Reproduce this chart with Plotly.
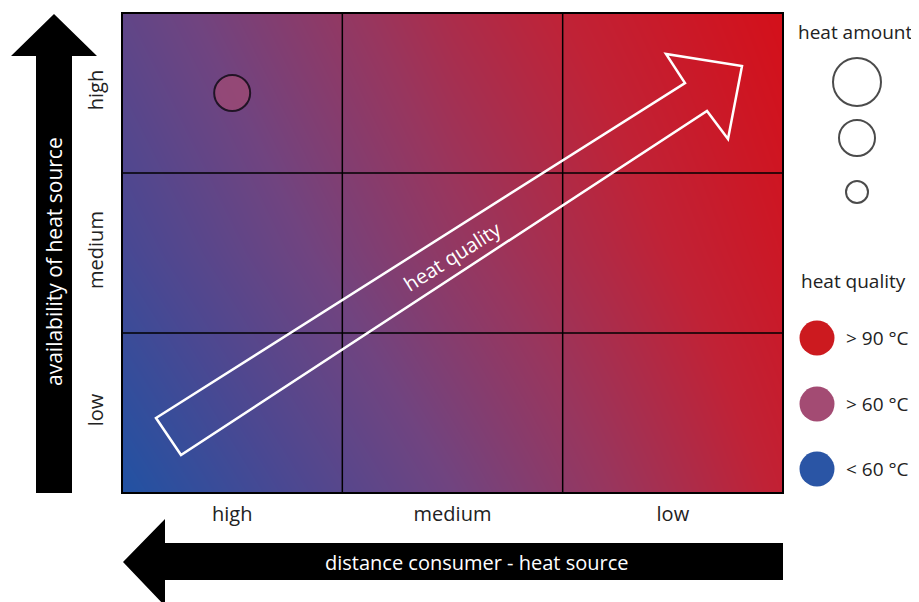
import plotly.graph_objects as go

# categories of the matrix
DISTANCE = ["high", "medium", "low"]          # distance consumer - heat source (x)
AVAILABILITY = ["low", "medium", "high"]      # availability of heat source (y)

# legend entries
AMOUNT_LEVELS = ["large", "medium", "small"]
AMOUNT_SIZES = [48, 36, 22]
QUALITY_LEVELS = ["> 90 °C", "> 60 °C", "< 60 °C"]
QUALITY_COLORS = ["#cc1a1f", "#a34b73", "#2a55a5"]

# heat sources placed in the matrix
POINT_DISTANCE = ["high"]
POINT_AVAILABILITY = ["high"]
POINT_AMOUNT = ["medium"]
POINT_QUALITY = ["> 60 °C"]

# background gradient (0 = cold / blue, 1 = hot / red), read at corners and middles
GRAD_X = [0, 0.5, 1]
GRAD_Y = [0, 0.5, 1]
GRAD_Z = [
    [0.00, 0.40, 0.82],
    [0.18, 0.57, 0.92],
    [0.32, 0.70, 1.00],
]

W, H = 919, 602
OFF = 8  # page body margin: the figure starts 8px in
FW, FH = W - OFF, H - OFF
PX0, PX1, PY0, PY1 = 122, 783, 13, 493
FONT = "Open Sans"
TXT = "#222222"

xdom = [(PX0 - OFF) / FW, (PX1 - OFF) / FW]
ydom = [1 - (PY1 - OFF) / FH, 1 - (PY0 - OFF) / FH]

fig = go.Figure()

# gradient background
fig.add_trace(go.Heatmap(
    x=GRAD_X, y=GRAD_Y, z=GRAD_Z,
    zmin=0, zmax=1, zsmooth="best",
    colorscale=[
        [0.0, "rgb(33,82,163)"],
        [0.2, "rgb(74,72,146)"],
        [0.4, "rgb(112,68,128)"],
        [0.6, "rgb(152,54,94)"],
        [0.8, "rgb(192,34,54)"],
        [1.0, "rgb(212,16,26)"],
    ],
    showscale=False, hoverinfo="skip",
    xaxis="x", yaxis="y",
))

# heat sources
size_of = dict(zip(AMOUNT_LEVELS, AMOUNT_SIZES))
color_of = dict(zip(QUALITY_LEVELS, QUALITY_COLORS))
fig.add_trace(go.Scatter(
    x=POINT_DISTANCE, y=POINT_AVAILABILITY,
    mode="markers",
    marker=dict(size=[size_of[a] for a in POINT_AMOUNT],
                color=[color_of[q] for q in POINT_QUALITY],
                line=dict(color="black", width=2)),
    xaxis="x2", yaxis="y2", showlegend=False,
))

# legend: heat amount
LEG_X = 857
AMOUNT_Y = [82, 138, 192]
fig.add_trace(go.Scatter(
    x=[LEG_X] * len(AMOUNT_SIZES), y=AMOUNT_Y,
    mode="markers",
    marker=dict(size=AMOUNT_SIZES, color="white", line=dict(color="black", width=2)),
    xaxis="x3", yaxis="y3", showlegend=False, hoverinfo="skip",
))

# legend: heat quality
QUAL_X = 817
QUAL_Y = [338, 404, 469]
fig.add_trace(go.Scatter(
    x=[QUAL_X] * len(QUALITY_COLORS), y=QUAL_Y,
    mode="markers",
    marker=dict(size=35, color=QUALITY_COLORS, line=dict(width=0)),
    xaxis="x3", yaxis="y3", showlegend=False, hoverinfo="skip",
))

annotations = [
    dict(text="heat amount", x=855, y=32),
    dict(text="heat quality", x=853, y=281),
]
for lab, yy in zip(QUALITY_LEVELS, QUAL_Y):
    annotations.append(dict(text=lab, x=844, y=yy, xanchor="left"))
for a in annotations:
    a.update(xref="x3", yref="y3", showarrow=False,
             font=dict(family=FONT, size=19, color=TXT))
    a.setdefault("xanchor", "center")

annotations += [
    dict(text="availability of heat source", x=54, y=262, textangle=-90,
         xref="x3", yref="y3", showarrow=False,
         font=dict(family=FONT, size=21, color="white")),
    dict(text="distance consumer - heat source", x=477, y=562,
         xref="x3", yref="y3", showarrow=False,
         font=dict(family=FONT, size=20, color="white")),
    dict(text="heat quality", x=452, y=256, textangle=-32.3,
         xref="x3", yref="y3", showarrow=False,
         font=dict(family=FONT, size=20, color="white")),
]

shapes = []
# grid lines between the categories
for b in [0.5, 1.5]:
    shapes.append(dict(type="line", xref="x2", yref="y2", x0=b, x1=b, y0=-0.5, y1=2.5,
                       line=dict(color="black", width=1.5), layer="above"))
    shapes.append(dict(type="line", xref="x2", yref="y2", y0=b, y1=b, x0=-0.5, x1=2.5,
                       line=dict(color="black", width=1.5), layer="above"))
# frame
shapes.append(dict(type="rect", xref="x3", yref="y3", x0=PX0, x1=PX1, y0=PY0, y1=PY1,
                   line=dict(color="black", width=2), layer="above"))
# white outline arrow "heat quality"
shapes.append(dict(type="path", xref="x3", yref="y3",
                   path="M156,418 L685,83 L666,54 L742,66 L728,139 L707,111 L181,455 Z",
                   line=dict(color="white", width=2.5), layer="above"))
# black axis arrows
shapes.append(dict(type="path", xref="x3", yref="y3",
                   path="M54,14 L97,56 L72,56 L72,493 L36,493 L36,56 L11,56 Z",
                   fillcolor="black", line=dict(width=0), layer="above"))
shapes.append(dict(type="path", xref="x3", yref="y3",
                   path="M123,562 L165,519 L165,543 L783,543 L783,580 L165,580 L165,606 Z",
                   fillcolor="black", line=dict(width=0), layer="above"))

fig.update_layout(
    width=FW, height=FH,
    margin=dict(l=0, r=0, t=0, b=0),
    paper_bgcolor="white",
    plot_bgcolor="rgba(0,0,0,0)",
    showlegend=False,
    font=dict(family=FONT, color=TXT),
    xaxis=dict(domain=xdom, range=[0, 1], visible=False, automargin=False),
    yaxis=dict(domain=ydom, range=[0, 1], visible=False, automargin=False),
    xaxis2=dict(overlaying="x", anchor="y2", type="category",
                categoryorder="array", categoryarray=DISTANCE, range=[-0.5, 2.5],
                showgrid=False, zeroline=False, showline=False, ticks="",
                tickfont=dict(family=FONT, size=20, color=TXT),
                ticklabelstandoff=7, automargin=False),
    yaxis2=dict(overlaying="y", anchor="x2", type="category",
                categoryorder="array", categoryarray=AVAILABILITY, range=[-0.5, 2.5],
                showgrid=False, zeroline=False, showline=False, ticks="",
                tickangle=-90,
                tickfont=dict(family=FONT, size=20, color=TXT),
                ticklabelstandoff=14, automargin=False),
    xaxis3=dict(domain=[0, 1], range=[OFF, W], visible=False, anchor="y3", automargin=False),
    yaxis3=dict(domain=[0, 1], range=[H, OFF], visible=False, anchor="x3", automargin=False),
    shapes=shapes,
    annotations=annotations,
)

fig.write_html("out.html")
